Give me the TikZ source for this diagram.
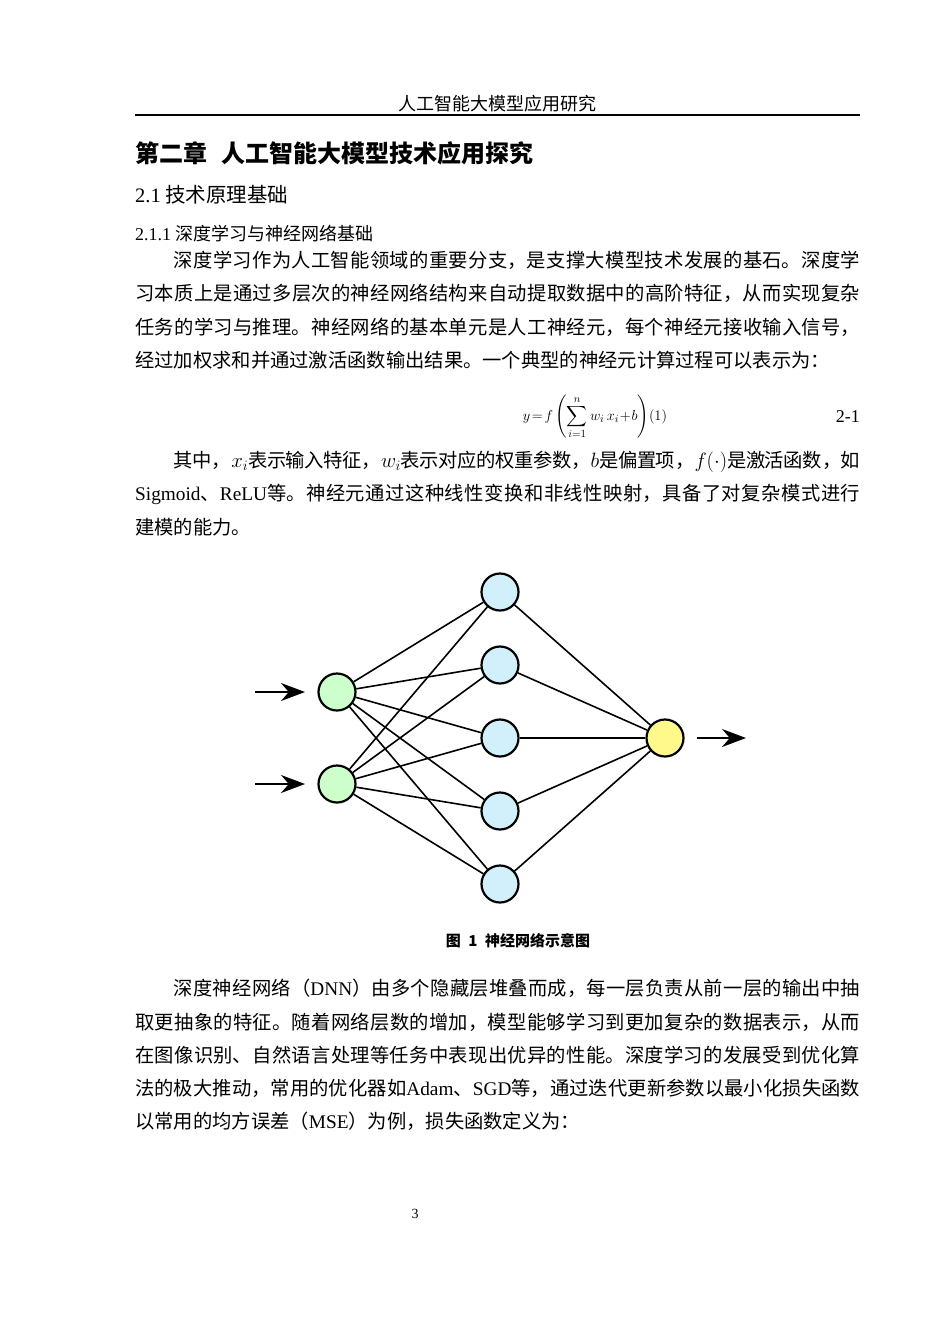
\documentclass[tikz,border=0pt]{standalone}
\usepackage{fontspec}
\usepackage{amsmath}
\setmainfont{Noto Sans CJK SC}
\newfontfamily\lat{Liberation Serif}
\XeTeXlinebreaklocale "zh"
\XeTeXlinebreakskip=0pt plus 2pt minus 0.8pt
\usetikzlibrary{arrows.meta}
\tikzset{
  para/.style={anchor=north west, inner sep=0pt, text width=725pt, align=justify,
    font=\fontsize{19.3}{33.3}\selectfont},
  line1/.style={anchor=base west, inner sep=0pt},
  neuron/.style={circle, draw, line width=2.2pt, minimum size=37pt, inner sep=0pt},
  inpt/.style={neuron, fill=green!20},
  hidn/.style={neuron, fill=cyan!18},
  outp/.style={neuron, fill=yellow!45},
  sig/.style={line width=1.8pt, -{Stealth[length=24pt,width=18pt]}}
}
\begin{document}
\begin{tikzpicture}[x=1pt, y=-1pt]
    \useasboundingbox (0,0) rectangle (950,1344);
    % header
    \node[anchor=base, inner sep=0pt, font=\fontsize{18}{20}\selectfont] (hdr) at (497,110) {人工智能大模型应用研究};
    \draw[line width=1.2pt] (135,115) -- (860,115);
    \node[line1, font=\fontsize{24}{26}\bfseries\selectfont] (chap) at (135,162) {第二章\hspace{0.6em}人工智能大模型技术应用探究};
    \node[line1, font=\fontsize{20.5}{24}\selectfont] (sec) at (135,202) {{\lat 2.1} 技术原理基础};
    \node[line1, font=\fontsize{18}{20}\selectfont] (subsec) at (135,240) {{\lat 2.1.1} 深度学习与神经网络基础};
    % text
    \node[para] (p1) at (135,251) {\hspace*{2em}深度学习作为人工智能领域的重要分支，是支撑大模型技术发展的基石。深度学\linebreak
习本质上是通过多层次的神经网络结构来自动提取数据中的高阶特征，从而实现复杂\linebreak
任务的学习与推理。神经网络的基本单元是人工神经元，每个神经元接收输入信号，\linebreak
经过加权求和并通过激活函数输出结果。一个典型的神经元计算过程可以表示为：};
    \node[anchor=base, inner sep=0pt, font=\fontsize{15}{17}\selectfont] (eq) at (595,420) {$\displaystyle y\!=\!f\left(\sum_{i=1}^{n} w_i\,x_i\!+\!b\right)\!(1)$};
    \node[anchor=base east, inner sep=0pt, font=\fontsize{18}{20}\lat] (eqno) at (860,422) {2-1};
    \node[para] (p2) at (135,451) {\hspace*{2em}其中，$x_i$表示输入特征，$w_i$表示对应的权重参数，$b$是偏置项，$f(\cdot)$是激活函数，如\linebreak
{\lat Sigmoid}、{\lat ReLU}等。神经元通过这种线性变换和非线性映射，具备了对复杂模式进行\linebreak
建模的能力。};
    % network
    \node[inpt] (i1) at (337,692) {};
    \node[inpt] (i2) at (337,784) {};
    \foreach \n/\y in {1/592, 2/665, 3/738, 4/811, 5/884}
        \node[hidn] (h\n) at (500,\y) {};
    \node[outp] (o) at (665,738) {};
    \foreach \from in {i1, i2}
        \foreach \to in {h1, h2, h3, h4, h5}
            \draw[line width=1.6pt] (\from) -- (\to);
    \foreach \from in {h1, h2, h3, h4, h5}
        \draw[line width=1.6pt] (\from) -- (o);
    \coordinate (a1) at (255,692);
    \coordinate (a2) at (255,784);
    \coordinate (b1) at (305,692);
    \coordinate (b2) at (305,784);
    \coordinate (c1) at (697,738);
    \coordinate (c2) at (746,738);
    \draw[sig] (a1) -- (b1);
    \draw[sig] (a2) -- (b2);
    \draw[sig] (c1) -- (c2);
    \node[anchor=base, inner sep=0pt, font=\fontsize{15}{18}\bfseries\selectfont] (cap) at (518,946) {图\hspace{0.5em}1\hspace{0.5em}神经网络示意图};
    \node[para] (p3) at (135,979) {\hspace*{2em}深度神经网络（{\lat DNN}）由多个隐藏层堆叠而成，每一层负责从前一层的输出中抽\linebreak
取更抽象的特征。随着网络层数的增加，模型能够学习到更加复杂的数据表示，从而\linebreak
在图像识别、自然语言处理等任务中表现出优异的性能。深度学习的发展受到优化算\linebreak
法的极大推动，常用的优化器如{\lat Adam}、{\lat SGD}等，通过迭代更新参数以最小化损失函数\linebreak
以常用的均方误差（{\lat MSE}）为例，损失函数定义为：};
    \node[anchor=base, inner sep=0pt, font=\fontsize{14}{16}\lat] (pg) at (415,1218) {3};
\end{tikzpicture}
\end{document}
